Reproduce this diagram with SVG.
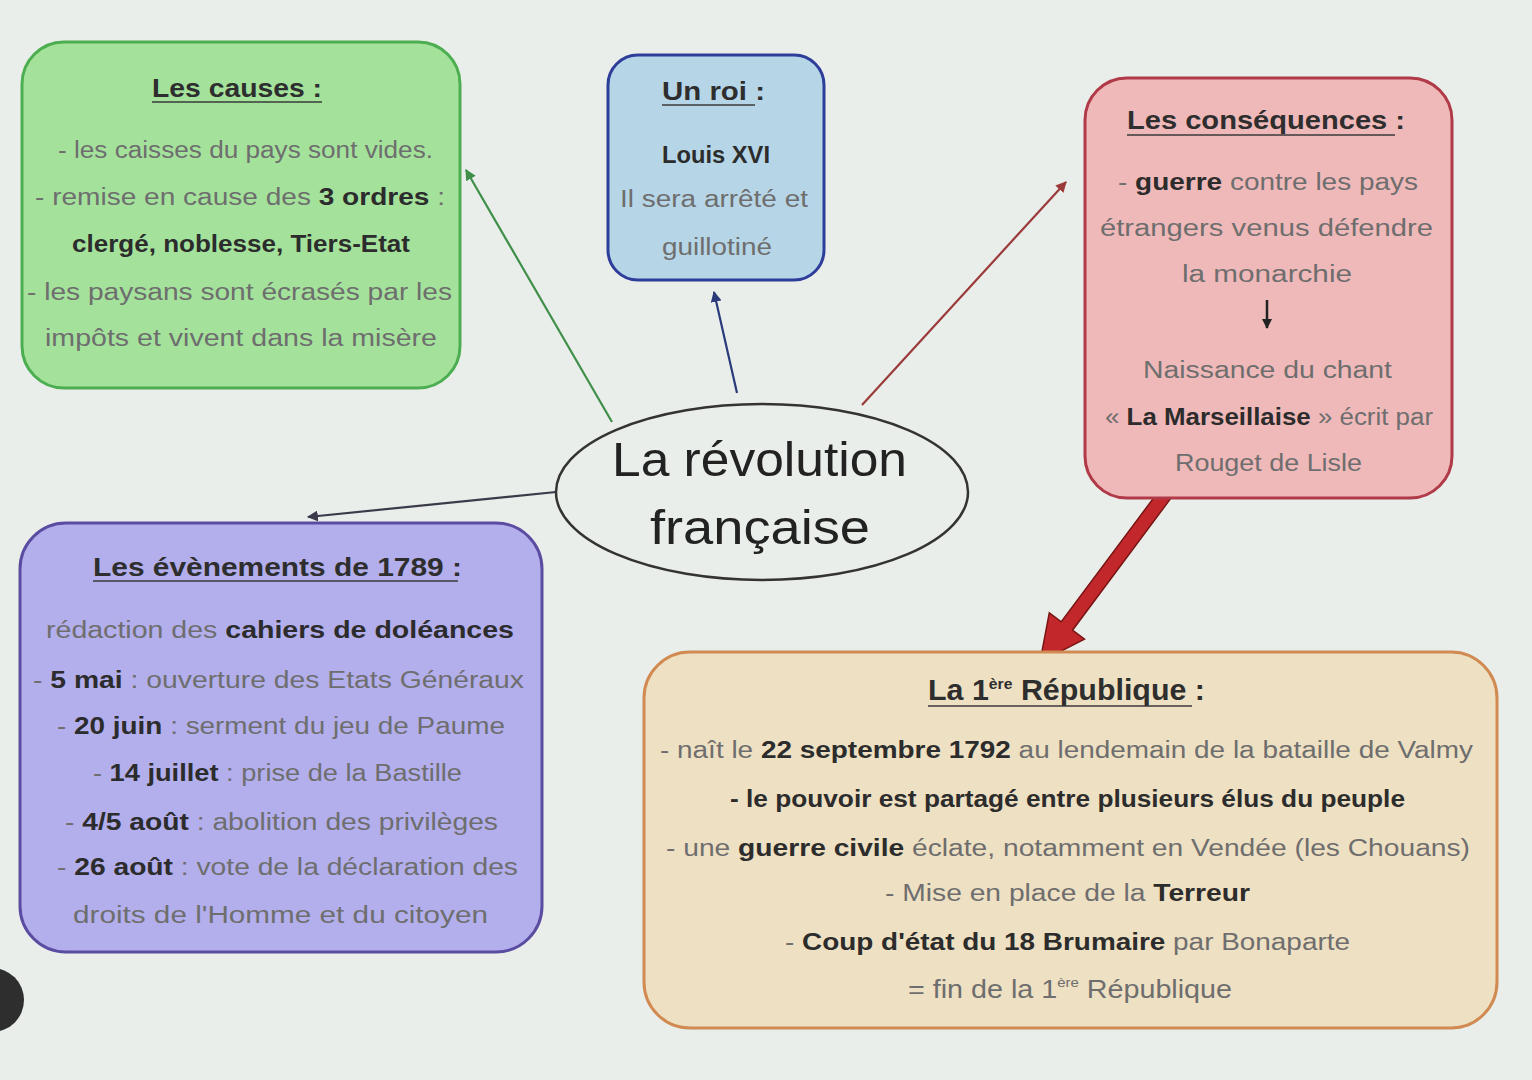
<svg xmlns="http://www.w3.org/2000/svg" width="1532" height="1080" viewBox="0 0 1532 1080">
<defs>
<style>
.t{font-family:"Liberation Sans",Arial,sans-serif;font-size:23px;fill:#6e6e6e}
.b{font-weight:bold;fill:#2c2c2c}
.h{font-family:"Liberation Sans",Arial,sans-serif;font-size:25px;fill:#2e2e2e;font-weight:bold}
.ul{stroke:#3a3a3a;stroke-width:1.6}
.box{stroke-width:3}
.c{fill:none;stroke-width:2.2}
</style>
<marker id="ag" viewBox="0 0 10 10" refX="9" refY="5" markerWidth="5" markerHeight="5" orient="auto"><path d="M0,0 L10,5 L0,10 z" fill="#3f8f4a"/></marker>
<marker id="ab" viewBox="0 0 10 10" refX="9" refY="5" markerWidth="5" markerHeight="5" orient="auto"><path d="M0,0 L10,5 L0,10 z" fill="#2a3a7a"/></marker>
<marker id="ar" viewBox="0 0 10 10" refX="9" refY="5" markerWidth="5" markerHeight="5" orient="auto"><path d="M0,0 L10,5 L0,10 z" fill="#9a3a3a"/></marker>
<marker id="ak" viewBox="0 0 10 10" refX="9" refY="5" markerWidth="5" markerHeight="5" orient="auto"><path d="M0,0 L10,5 L0,10 z" fill="#3a3a4a"/></marker>
<marker id="as" viewBox="0 0 10 10" refX="9" refY="5" markerWidth="4" markerHeight="4" orient="auto"><path d="M0,0 L10,5 L0,10 z" fill="#222"/></marker>
</defs>
<rect x="0" y="0" width="1532" height="1080" fill="#eaeeea"/>

<g id="connectors">
<line class="c" x1="612" y1="422" x2="466" y2="170" stroke="#3f8f4a" marker-end="url(#ag)"/>
<line class="c" x1="737" y1="393" x2="714" y2="292" stroke="#2a3a7a" marker-end="url(#ab)"/>
<line class="c" x1="862" y1="405" x2="1066" y2="182" stroke="#9a3a3a" marker-end="url(#ar)"/>
<line class="c" x1="556" y1="492" x2="308" y2="517" stroke="#3a3a4a" marker-end="url(#ak)"/>
<polygon points="1177.6,489.2 1166.4,480.8 1061.3,621.8 1049.3,612.9 1040,662 1084.5,639.1 1072.5,630.2" fill="#c1272b" stroke="#7a1515" stroke-width="1.5"/>
</g>

<g id="center">
<ellipse cx="762" cy="492" rx="206" ry="88" fill="none" stroke="#333" stroke-width="2.5"/>
<text x="612" y="476" textLength="295" lengthAdjust="spacingAndGlyphs" style="font-family:'Liberation Sans',Arial,sans-serif;font-size:48px;fill:#222">La révolution</text>
<text x="650" y="544" textLength="220" lengthAdjust="spacingAndGlyphs" style="font-family:'Liberation Sans',Arial,sans-serif;font-size:48px;fill:#222">française</text>
</g>

<g id="causes">
<rect class="box" x="22" y="42" width="438" height="346" rx="42" fill="#a4e29c" stroke="#4cae50"/>
<text class="h" x="152" y="97" textLength="170" lengthAdjust="spacingAndGlyphs">Les causes :</text>
<line class="ul" x1="152" y1="102" x2="322" y2="102"/>
<text class="t" x="58" y="158" textLength="375" lengthAdjust="spacingAndGlyphs">- les caisses du pays sont vides.</text>
<text class="t" x="35" y="205" textLength="410" lengthAdjust="spacingAndGlyphs">- remise en cause des <tspan class="b">3 ordres</tspan> :</text>
<text class="t b" x="72" y="252" textLength="338" lengthAdjust="spacingAndGlyphs">clergé, noblesse, Tiers-Etat</text>
<text class="t" x="27" y="300" textLength="425" lengthAdjust="spacingAndGlyphs">- les paysans sont écrasés par les</text>
<text class="t" x="45" y="346" textLength="392" lengthAdjust="spacingAndGlyphs">impôts et vivent dans la misère</text>
</g>

<g id="roi">
<rect class="box" x="608" y="55" width="216" height="225" rx="30" fill="#b6d6e8" stroke="#2e3c9a"/>
<text class="h" x="662" y="100" textLength="103" lengthAdjust="spacingAndGlyphs">Un roi  :</text>
<line class="ul" x1="662" y1="105" x2="755" y2="105"/>
<text class="t b" x="662" y="163" textLength="108" lengthAdjust="spacingAndGlyphs">Louis XVI</text>
<text class="t" x="620" y="207" textLength="188" lengthAdjust="spacingAndGlyphs">Il sera arrêté et</text>
<text class="t" x="662" y="255" textLength="110" lengthAdjust="spacingAndGlyphs">guillotiné</text>
</g>

<g id="consequences">
<rect class="box" x="1085" y="78" width="367" height="420" rx="42" fill="#f0b9b9" stroke="#b03a48"/>
<text class="h" x="1127" y="129" textLength="278" lengthAdjust="spacingAndGlyphs">Les conséquences :</text>
<line class="ul" x1="1127" y1="135" x2="1395" y2="135"/>
<text class="t" x="1118" y="190" textLength="300" lengthAdjust="spacingAndGlyphs">- <tspan class="b">guerre</tspan> contre les pays</text>
<text class="t" x="1100" y="236" textLength="333" lengthAdjust="spacingAndGlyphs">étrangers venus défendre</text>
<text class="t" x="1182" y="282" textLength="170" lengthAdjust="spacingAndGlyphs">la monarchie</text>
<line x1="1267" y1="300" x2="1267" y2="328" stroke="#222" stroke-width="2.5" marker-end="url(#as)"/>
<text class="t" x="1143" y="378" textLength="249" lengthAdjust="spacingAndGlyphs">Naissance du chant</text>
<text class="t" x="1105" y="425" textLength="328" lengthAdjust="spacingAndGlyphs">« <tspan class="b">La Marseillaise</tspan> » écrit par</text>
<text class="t" x="1175" y="471" textLength="187" lengthAdjust="spacingAndGlyphs">Rouget de Lisle</text>
</g>

<g id="evenements">
<rect class="box" x="20" y="523" width="522" height="429" rx="46" fill="#b3aeec" stroke="#5a4ca0"/>
<text class="h" x="93" y="576" textLength="369" lengthAdjust="spacingAndGlyphs">Les évènements de 1789 :</text>
<line class="ul" x1="93" y1="581" x2="458" y2="581"/>
<text class="t" x="46" y="638" textLength="468" lengthAdjust="spacingAndGlyphs">rédaction des <tspan class="b">cahiers de doléances</tspan></text>
<text class="t" x="33" y="688" textLength="491" lengthAdjust="spacingAndGlyphs">- <tspan class="b">5 mai</tspan> : ouverture des Etats Généraux</text>
<text class="t" x="57" y="734" textLength="448" lengthAdjust="spacingAndGlyphs">- <tspan class="b">20 juin</tspan> : serment du jeu de Paume</text>
<text class="t" x="93" y="781" textLength="369" lengthAdjust="spacingAndGlyphs">- <tspan class="b">14 juillet</tspan> : prise de la Bastille</text>
<text class="t" x="65" y="830" textLength="433" lengthAdjust="spacingAndGlyphs">- <tspan class="b">4/5 août</tspan> : abolition des privilèges</text>
<text class="t" x="57" y="875" textLength="461" lengthAdjust="spacingAndGlyphs">- <tspan class="b">26 août</tspan> : vote de la déclaration des</text>
<text class="t" x="73" y="923" textLength="415" lengthAdjust="spacingAndGlyphs">droits de l'Homme et du citoyen</text>
</g>

<g id="republique">
<rect class="box" x="644" y="652" width="853" height="376" rx="46" fill="#eee0c2" stroke="#d08a52"/>
<text class="h" x="928" y="700" style="font-size:29px" textLength="277" lengthAdjust="spacingAndGlyphs">La 1<tspan font-size="15" dy="-11">ère</tspan><tspan dy="11"> République</tspan> :</text>
<line class="ul" x1="928" y1="706" x2="1192" y2="706"/>
<text class="t" x="660" y="758" textLength="813" lengthAdjust="spacingAndGlyphs">- naît le <tspan class="b">22 septembre 1792</tspan> au lendemain de la bataille de Valmy</text>
<text class="t b" x="730" y="807" textLength="675" lengthAdjust="spacingAndGlyphs">- le pouvoir est partagé entre plusieurs élus du peuple</text>
<text class="t" x="666" y="856" textLength="804" lengthAdjust="spacingAndGlyphs">- une <tspan class="b">guerre civile</tspan> éclate, notamment en Vendée (les Chouans)</text>
<text class="t" x="885" y="901" textLength="365" lengthAdjust="spacingAndGlyphs">- Mise en place de la <tspan class="b">Terreur</tspan></text>
<text class="t" x="785" y="950" textLength="565" lengthAdjust="spacingAndGlyphs">- <tspan class="b">Coup d'état du 18 Brumaire</tspan> par Bonaparte</text>
<text class="t" x="908" y="998" style="font-size:25px" textLength="324" lengthAdjust="spacingAndGlyphs">= fin de la 1<tspan font-size="13" dy="-11">ère</tspan><tspan dy="11"> République</tspan></text>
</g>

<circle cx="-8" cy="1000" r="32" fill="#2e2e2e"/>
</svg>
